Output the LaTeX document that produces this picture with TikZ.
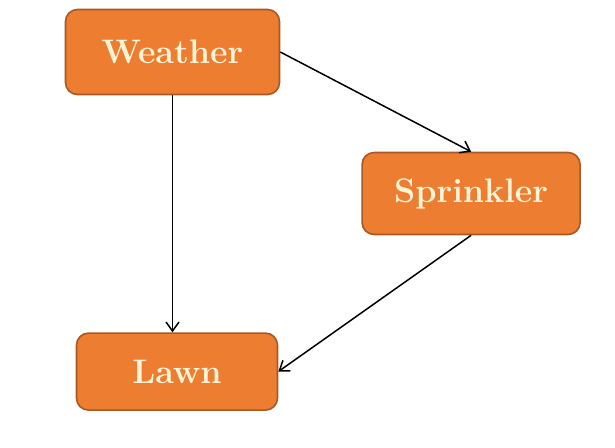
\documentclass[tikz,border=0pt]{standalone}
\usetikzlibrary{positioning, arrows.meta}
\definecolor{boxfill}{RGB}{236,125,49}
\definecolor{boxline}{RGB}{170,88,34}
\definecolor{boxtext}{RGB}{255,244,214}
\tikzset{dbox/.style={rounded corners=12pt, draw=boxline, line width=1.6pt, fill=boxfill, text=boxtext, font=\fontsize{34}{40}\selectfont\bfseries, inner sep=0pt, align=center}}
\tikzset{arr/.style={draw, line width=1.5pt, -{Straight Barb[length=9pt, width=13pt]}}}
\begin{document}
\begin{tikzpicture}
	\useasboundingbox (-172.5pt, 52pt) rectangle (442.5pt, -395pt);
	\node[dbox, minimum width=214pt, minimum height=85pt] (W) at (0,0) {Weather};
	\node[dbox, minimum width=218pt, minimum height=82pt, right=81pt of W, yshift=-141.5pt] (S) {Sprinkler};
	\node[dbox, minimum width=201pt, minimum height=77pt, below=237pt of W, xshift=4.5pt] (L) {Lawn};
	%
	\draw[arr] (W.south) -- (W.south |- L.north);
	\draw[arr] (W.east) -- (S.north);
	\draw[arr] (S.south) -- (L.east);
\end{tikzpicture}
\end{document}
